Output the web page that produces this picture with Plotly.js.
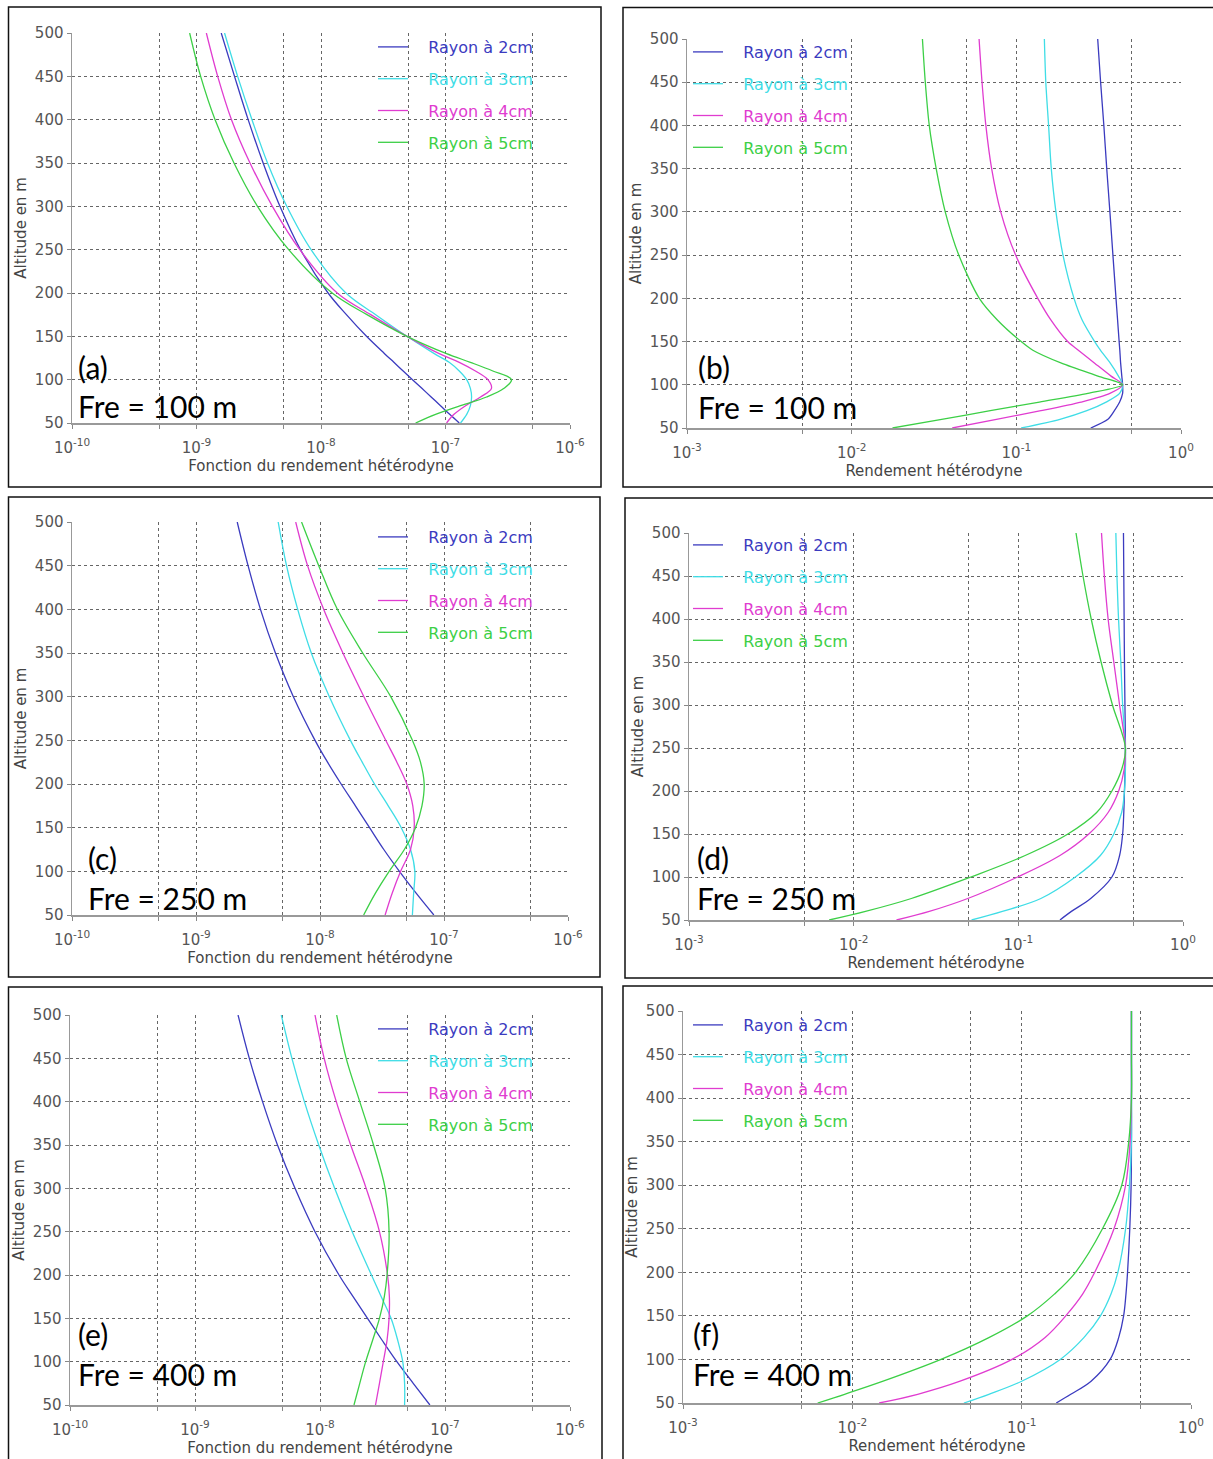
<!DOCTYPE html>
<html><head><meta charset="utf-8">
<script src="https://cdn.plot.ly/plotly-3.0.1.min.js"></script>
<style>html,body{margin:0;padding:0;background:#fff}#chart{width:1213px;height:1459px}</style>
</head><body><div id="chart"></div>
<script>
// ---------- DATA ----------
const seriesNames = ['Rayon à 2cm', 'Rayon à 3cm', 'Rayon à 4cm', 'Rayon à 5cm'];
const panelTags = ['(a)', '(b)', '(c)', '(d)', '(e)', '(f)'];
const freLabels = ['Fre = 100 m', 'Fre = 100 m', 'Fre = 250 m', 'Fre = 250 m', 'Fre = 400 m', 'Fre = 400 m'];
const xTitles = ['Fonction du rendement hétérodyne', 'Rendement hétérodyne',
                 'Fonction du rendement hétérodyne', 'Rendement hétérodyne',
                 'Fonction du rendement hétérodyne', 'Rendement hétérodyne'];
const yTitle = 'Altitude en m';
const yTicks = [50, 100, 150, 200, 250, 300, 350, 400, 450, 500];
const leftDecades = [-10, -9, -8, -7, -6];
const rightDecades = [-3, -2, -1, 0];

// (a) Fre = 100 m, fonction du rendement
const altA = [50, 60, 70, 80, 90, 100, 110, 120, 130, 150, 175, 200, 250, 300, 350, 400, 450, 500];
const a_r2 = [1.29e-7, 1.08e-7, 9.12e-8, 7.67e-8, 6.46e-8, 5.43e-8, 4.57e-8, 3.85e-8, 3.24e-8, 2.32e-8, 1.60e-8, 1.14e-8, 6.84e-9, 4.68e-9, 3.43e-9, 2.60e-9, 2.02e-9, 1.58e-9];
const a_r3 = [1.32e-7, 1.48e-7, 1.585e-7, 1.62e-7, 1.585e-7, 1.48e-7, 1.29e-7, 1.07e-7, 8.13e-8, 4.90e-8, 2.75e-8, 1.585e-8, 8.32e-9, 5.31e-9, 3.72e-9, 2.79e-9, 2.14e-9, 1.68e-9];
const a_r4 = [1.02e-7, 1.17e-7, 1.45e-7, 1.91e-7, 2.34e-7, 2.19e-7, 1.74e-7, 1.29e-7, 8.91e-8, 4.90e-8, 2.51e-8, 1.35e-8, 6.76e-9, 4.07e-9, 2.69e-9, 1.91e-9, 1.48e-9, 1.20e-9];
const a_r5 = [5.75e-8, 8.32e-8, 1.32e-7, 2.14e-7, 2.95e-7, 3.39e-7, 2.40e-7, 1.585e-7, 1.02e-7, 4.90e-8, 2.34e-8, 1.23e-8, 5.50e-9, 3.09e-9, 2.00e-9, 1.41e-9, 1.08e-9, 8.81e-10];

// (b) Fre = 100 m, rendement
const altB = [50, 60, 70, 80, 90, 100, 110, 125, 140, 150, 175, 200, 250, 300, 350, 400, 450, 500];
const b_r2 = [0.283, 0.360, 0.394, 0.424, 0.442, 0.442, 0.437, 0.430, 0.425, 0.421, 0.412, 0.403, 0.386, 0.370, 0.354, 0.340, 0.325, 0.312];
const b_r3 = [0.107, 0.184, 0.268, 0.351, 0.424, 0.442, 0.417, 0.372, 0.324, 0.299, 0.251, 0.224, 0.192, 0.174, 0.163, 0.157, 0.151, 0.148];
const b_r4 = [0.0408, 0.0757, 0.141, 0.247, 0.370, 0.442, 0.376, 0.299, 0.238, 0.205, 0.162, 0.135, 0.099, 0.0804, 0.0708, 0.0653, 0.0619, 0.0594];
const b_r5 = [0.0177, 0.0352, 0.0695, 0.138, 0.272, 0.442, 0.313, 0.188, 0.126, 0.107, 0.0767, 0.0596, 0.0447, 0.0370, 0.0326, 0.0296, 0.0280, 0.0269];

// (c) Fre = 250 m, fonction du rendement
const altC = [50, 75, 100, 125, 150, 175, 200, 225, 250, 300, 350, 400, 450, 500];
const c_r2 = [8.28e-8, 5.96e-8, 4.37e-8, 3.27e-8, 2.51e-8, 1.93e-8, 1.48e-8, 1.15e-8, 9.12e-9, 6.10e-9, 4.37e-9, 3.31e-9, 2.63e-9, 2.15e-9];
const c_r3 = [5.56e-8, 5.69e-8, 5.82e-8, 5.37e-8, 4.52e-8, 3.55e-8, 2.75e-8, 2.19e-8, 1.76e-8, 1.19e-8, 8.51e-9, 6.61e-9, 5.37e-9, 4.60e-9];
const c_r4 = [3.35e-8, 3.82e-8, 4.47e-8, 5.37e-8, 5.75e-8, 5.60e-8, 5.01e-8, 4.17e-8, 3.39e-8, 2.26e-8, 1.53e-8, 1.07e-8, 7.94e-9, 6.37e-9];
const c_r5 = [2.25e-8, 2.80e-8, 3.61e-8, 4.79e-8, 5.89e-8, 6.64e-8, 6.92e-8, 6.46e-8, 5.56e-8, 3.72e-8, 2.21e-8, 1.38e-8, 9.77e-9, 7.10e-9];

// (d) Fre = 250 m, rendement
const altD = [50, 60, 75, 100, 125, 150, 175, 200, 225, 250, 300, 350, 400, 450, 500];
const d_r2 = [0.179, 0.210, 0.275, 0.370, 0.412, 0.430, 0.437, 0.441, 0.445, 0.447, 0.444, 0.441, 0.439, 0.437, 0.435];
const d_r3 = [0.052, 0.080, 0.137, 0.222, 0.315, 0.380, 0.424, 0.441, 0.447, 0.447, 0.430, 0.419, 0.406, 0.397, 0.391];
const d_r4 = [0.0182, 0.0288, 0.0493, 0.099, 0.179, 0.268, 0.351, 0.407, 0.439, 0.447, 0.412, 0.380, 0.351, 0.333, 0.320];
const d_r5 = [0.0071, 0.0118, 0.0224, 0.0515, 0.110, 0.200, 0.299, 0.370, 0.424, 0.447, 0.373, 0.318, 0.277, 0.247, 0.224];

// (e) Fre = 400 m, fonction du rendement
const altE = [50, 75, 100, 125, 150, 175, 200, 250, 300, 350, 400, 450, 500];
const e_r2 = [7.57e-8, 5.57e-8, 4.12e-8, 3.13e-8, 2.40e-8, 1.84e-8, 1.42e-8, 9.12e-9, 6.31e-9, 4.57e-9, 3.47e-9, 2.72e-9, 2.21e-9];
const e_r3 = [4.75e-8, 4.75e-8, 4.59e-8, 4.18e-8, 3.70e-8, 3.09e-8, 2.58e-8, 1.81e-8, 1.31e-8, 9.77e-9, 7.50e-9, 5.96e-9, 4.90e-9];
const e_r4 = [2.78e-8, 2.99e-8, 3.21e-8, 3.44e-8, 3.57e-8, 3.59e-8, 3.47e-8, 2.99e-8, 2.34e-8, 1.76e-8, 1.35e-8, 1.08e-8, 9.12e-9];
const e_r5 = [1.87e-8, 2.08e-8, 2.32e-8, 2.64e-8, 2.99e-8, 3.27e-8, 3.44e-8, 3.57e-8, 3.32e-8, 2.68e-8, 2.08e-8, 1.62e-8, 1.36e-8];

// (f) Fre = 400 m, rendement
const altF = [50, 60, 75, 100, 125, 150, 175, 200, 250, 300, 350, 400, 450, 500];
const f_r2 = [0.160, 0.195, 0.257, 0.333, 0.374, 0.400, 0.413, 0.422, 0.435, 0.443, 0.445, 0.445, 0.445, 0.445];
const f_r3 = [0.0456, 0.064, 0.100, 0.169, 0.233, 0.292, 0.337, 0.370, 0.411, 0.433, 0.445, 0.445, 0.445, 0.445];
const f_r4 = [0.0144, 0.0243, 0.0433, 0.0877, 0.137, 0.182, 0.229, 0.270, 0.351, 0.411, 0.437, 0.445, 0.445, 0.445];
const f_r5 = [0.00624, 0.0090, 0.0152, 0.0334, 0.064, 0.108, 0.156, 0.208, 0.300, 0.390, 0.429, 0.445, 0.445, 0.445];

// ---------- STYLE / LAYOUT ----------
const W = 1213, H = 1459;
const colors = ['#3b3bbf', '#3fdde6', '#e03cd0', '#3ccf46'];
const panelData = [
  {alt: altA, s: [a_r2, a_r3, a_r4, a_r5], dec: leftDecades, sm: 1.0},
  {alt: altB, s: [b_r2, b_r3, b_r4, b_r5], dec: rightDecades, sm: 0.8},
  {alt: altC, s: [c_r2, c_r3, c_r4, c_r5], dec: leftDecades, sm: 1.0},
  {alt: altD, s: [d_r2, d_r3, d_r4, d_r5], dec: rightDecades, sm: 1.0},
  {alt: altE, s: [e_r2, e_r3, e_r4, e_r5], dec: leftDecades, sm: 1.0},
  {alt: altF, s: [f_r2, f_r3, f_r4, f_r5], dec: rightDecades, sm: 1.0}
];
// plot boxes in pixels: [left, right, top, bottom]
const boxes = [
  [72, 570, 33, 423], [687, 1181, 39, 428],
  [72, 568, 522, 915], [689, 1183, 533, 920],
  [70, 570, 1015, 1405], [683, 1191, 1011, 1403]
];
// frames [x0, x1, y0, y1]
const frames = [
  [8.5, 601, 7, 487], [623, 1216, 7.5, 487],
  [8.5, 600, 497, 977], [625, 1216, 498, 978],
  [8.5, 602, 987, 1462], [623, 1216, 986, 1462]
];
const legendPos = [[373, 30], [688, 35], [373, 520], [688, 528], [373, 1012], [688, 1008]];
const tagPos = [[76, 367, 406], [696, 367, 407], [86, 858, 898], [695, 858, 898], [76, 1334, 1374], [691, 1334, 1374]];
const pad = '\u00a0\u00a0\u00a0';

const px = v => v / W, py = v => 1 - v / H;

const traces = [];
const layout = {
  width: W, height: H, margin: {l: 0, r: 0, t: 0, b: 0},
  paper_bgcolor: '#fff', plot_bgcolor: '#fff', showlegend: true,
  annotations: [], shapes: []
};
const tickFont = {family: 'DejaVu Sans', size: 15, color: '#555'};
const titleFont = {family: 'DejaVu Sans', size: 15, color: '#444'};
const gridCol = '#666';

panelData.forEach((p, i) => {
  const n = i === 0 ? '' : String(i + 1);
  const legId = 'legend' + n;
  p.s.forEach((vals, k) => {
    traces.push({
      type: 'scatter', mode: 'lines', x: vals, y: p.alt,
      xaxis: 'x' + n, yaxis: 'y' + n,
      line: {color: colors[k], width: 1.3, shape: 'spline', smoothing: p.sm},
      name: pad + '<span style="color:' + colors[k] + '">' + seriesNames[k] + '</span>',
      legend: legId, legendgroup: 'g' + i + '_' + k, hoverinfo: 'skip'
    });
  });
  const b = boxes[i];
  const decVals = p.dec.map(e => Math.pow(10, e));
  const decText = p.dec.map(e => '10<sup>' + e + '</sup>');
  const fives = p.dec.slice(0, -1).map(e => 5 * Math.pow(10, e));
  layout['xaxis' + n] = {
    type: 'log', domain: [px(b[0]), px(b[1])], anchor: 'y' + n,
    range: [p.dec[0], p.dec[p.dec.length - 1]],
    tickmode: 'array', tickvals: decVals, ticktext: decText,
    ticks: 'outside', ticklen: 4, tickcolor: '#888', tickfont: tickFont, ticklabelstandoff: 6,
    showgrid: true, gridcolor: gridCol, griddash: 'dot', gridwidth: 1,
    minor: {tickmode: 'array', tickvals: fives, showgrid: true, gridcolor: gridCol,
            griddash: 'dot', gridwidth: 1, ticks: 'outside', ticklen: 4, tickcolor: '#888'},
    showline: true, linecolor: '#999', linewidth: 1.5, zeroline: false,
    title: {text: xTitles[i], font: titleFont, standoff: 3}, fixedrange: true
  };
  layout['yaxis' + n] = {
    domain: [py(b[3]), py(b[2])], anchor: 'x' + n, range: [50, 500],
    tickmode: 'array', tickvals: yTicks,
    ticks: 'outside', ticklen: 4, tickcolor: '#888', tickfont: tickFont,
    showgrid: true, gridcolor: gridCol, griddash: 'dot', gridwidth: 1,
    showline: true, linecolor: '#999', linewidth: 1.5, zeroline: false,
    title: {text: yTitle, font: titleFont, standoff: 4}, fixedrange: true
  };
  layout[legId] = {
    x: px(legendPos[i][0]), y: py(legendPos[i][1]), xanchor: 'left', yanchor: 'top',
    bgcolor: 'rgba(0,0,0,0)', borderwidth: 0, tracegroupgap: 8,
    font: {family: 'DejaVu Sans', size: 16, color: '#333'}
  };
  const f = frames[i];
  layout.shapes.push({type: 'rect', xref: 'paper', yref: 'paper',
    x0: px(f[0]), x1: px(f[1]), y0: py(f[3]), y1: py(f[2]),
    line: {color: '#111', width: 1.5}, fillcolor: 'rgba(0,0,0,0)'});
  const tp = tagPos[i];
  layout.annotations.push({xref: 'paper', yref: 'paper', x: px(tp[0]), y: py(tp[1]),
    xanchor: 'left', yanchor: 'middle', showarrow: false, text: panelTags[i],
    font: {family: 'Lato', size: 30, color: '#000'}});
  layout.annotations.push({xref: 'paper', yref: 'paper', x: px(tp[0]), y: py(tp[2]),
    xanchor: 'left', yanchor: 'middle', showarrow: false, text: freLabels[i],
    font: {family: 'Lato', size: 30, color: '#000'}});
});

Plotly.newPlot('chart', traces, layout, {staticPlot: true, displayModeBar: false});
</script></body></html>
